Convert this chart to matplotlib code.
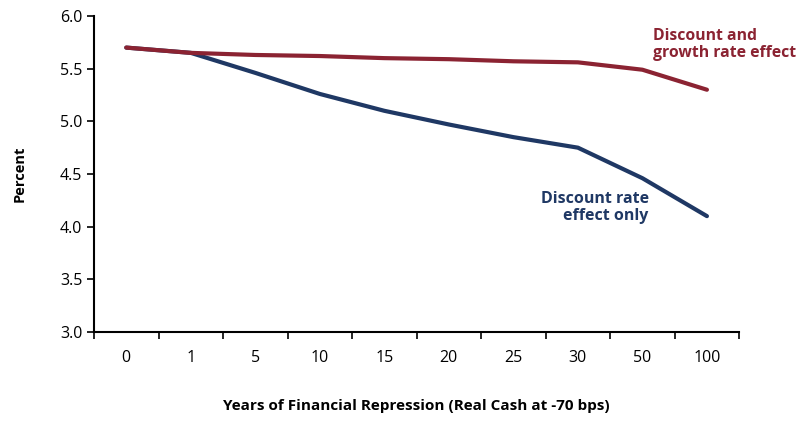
import matplotlib.pyplot as plt
import numpy as np

plt.rcParams['font.family'] = ['Open Sans', 'DejaVu Sans']

years = ['0', '1', '5', '10', '15', '20', '25', '30', '50', '100']
growth_effect = [5.70, 5.65, 5.63, 5.62, 5.60, 5.59, 5.57, 5.56, 5.49, 5.30]
discount_only = [5.70, 5.65, 5.46, 5.26, 5.10, 4.97, 4.85, 4.75, 4.46, 4.10]

red = '#8B2332'
navy = '#1F3864'

fig = plt.figure(figsize=(8, 4.21), dpi=100)
ax = fig.add_axes([0.1175, 0.2114, 0.8065, 0.7506])

x = np.arange(len(years))
ax.plot(x, discount_only, color=navy, lw=3, solid_capstyle='round')
ax.plot(x, growth_effect, color=red, lw=3, solid_capstyle='round')

ax.set_xlim(-0.5, len(years) - 0.5)
ax.set_ylim(3.0, 6.0)
ax.set_yticks(np.arange(3.0, 6.01, 0.5))
ax.set_yticklabels([f'{v:.1f}' for v in np.arange(3.0, 6.01, 0.5)])
ax.set_xticks(x)
ax.set_xticklabels(years)
ax.set_xticks(np.arange(-0.5, len(years)), minor=True)
ax.tick_params(axis='x', which='major', length=0, pad=13, labelsize=11.5)
ax.tick_params(axis='x', which='minor', length=5, width=1.2)
ax.tick_params(axis='y', length=5, width=1.2, labelsize=11.5)

for s in ['top', 'right']:
    ax.spines[s].set_visible(False)
for s in ['left', 'bottom']:
    ax.spines[s].set_linewidth(1.5)

ax.set_ylabel('Percent', fontsize=10.5, fontweight='bold', labelpad=24)
ax.set_xlabel('Years of Financial Repression (Real Cash at -70 bps)',
              fontsize=11, fontweight='bold', labelpad=24)

ax.text(8.16, 5.73, 'Discount and\ngrowth rate effect', color=red,
        fontsize=11.3, fontweight='bold', ha='left', va='center', linespacing=1.05)
ax.text(8.1, 4.18, 'Discount rate\neffect only', color=navy,
        fontsize=11.5, fontweight='bold', ha='right', va='center',
        multialignment='right', linespacing=1.05)

fig.savefig('out.png', dpi=100)
